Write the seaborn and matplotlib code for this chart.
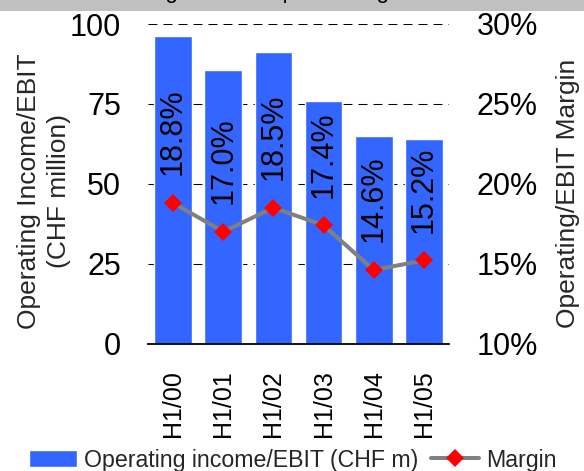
import matplotlib
matplotlib.use("Agg")
import matplotlib.pyplot as plt
import seaborn as sns
import numpy as np
import pandas as pd
from matplotlib.patches import Rectangle
from matplotlib.ticker import FuncFormatter

# data
periods = ["H1/00", "H1/01", "H1/02", "H1/03", "H1/04", "H1/05"]
income = [96.2, 85.7, 91.1, 76.0, 65.0, 64.1]      # CHF m
margin = [18.8, 17.0, 18.5, 17.4, 14.6, 15.2]      # %

sns.set_theme(style="white")
plt.rcParams["font.family"] = ["Liberation Sans", "DejaVu Sans"]

W, H = 584, 471
fig = plt.figure(figsize=(W / 100, H / 100), dpi=100)
ax = fig.add_axes([148 / W, 1 - 343.5 / H, 301 / W, 319.5 / H])

df = pd.DataFrame({"period": periods, "income": income, "margin": margin})

sns.barplot(data=df, x="period", y="income", color="#3366FF", saturation=1,
            width=0.75, ax=ax, label="Operating income/EBIT (CHF m)", zorder=2)
ax.set_xlim(-0.5, len(periods) - 0.5)
ax.set_ylim(0, 100)
ax.set_yticks([0, 25, 50, 75, 100])
ax.set_axisbelow(True)
ax.yaxis.grid(True, color="black", linewidth=0.75, linestyle=(0, (8.6, 5.8)))
ax.xaxis.grid(False)
for s in ["top", "left", "right"]:
    ax.spines[s].set_visible(False)
ax.spines["bottom"].set_color("black")
ax.spines["bottom"].set_linewidth(1.3)
ax.spines["bottom"].set_zorder(3)
ax.tick_params(axis="y", length=0, pad=19.5, labelsize=22, colors="black")
ax.tick_params(axis="x", length=0, pad=19, labelsize=18, colors="black",
               labelrotation=90)
ax.set_xlabel("")
ax.set_ylabel("")

ax2 = ax.twinx()
pos = np.arange(len(periods))
sns.lineplot(x=pos, y=margin, ax=ax2, color="#808080", linewidth=2.9,
             marker="D", markersize=9, markerfacecolor="#FF0000",
             markeredgecolor="#FF0000", markeredgewidth=0, label="Margin")
ax2.set_ylim(10, 30)
ax2.set_yticks([10, 15, 20, 25, 30])
ax2.yaxis.set_major_formatter(FuncFormatter(lambda v, p: f"{v:.0f}%"))
ax2.tick_params(axis="y", length=0, pad=20, labelsize=22, colors="black")
ax2.grid(False)
for s in ax2.spines.values():
    s.set_visible(False)
ax2.set_xlabel("")
ax2.set_ylabel("")

for x, m in zip(pos, margin):
    ax2.annotate(f"{m:.1f}%", (x, m), xytext=(0, 20), textcoords="offset points",
                 rotation=90, ha="center", va="bottom", fontsize=22, color="black")

# axis titles
fig.text(44 / W, 1 - 191.5 / H, "Operating Income/EBIT\n(CHF million)",
         rotation=90, ha="center", va="center", fontsize=19, linespacing=1.3,
         multialignment="center")
fig.text(568 / W, 1 - 193.5 / H, "Operating/EBIT Margin", rotation=90,
         ha="center", va="center", fontsize=19)

# grey title band, text mostly cut off at top
fig.add_artist(Rectangle((0, 1 - 11 / H), 1, 11 / H, transform=fig.transFigure,
                         facecolor="#C0C0C0", edgecolor="none", zorder=0))
fig.text(86 / W, 1 + 1.5 / H, "Declining EBIT and profit margin", fontsize=16,
         ha="left", va="baseline", color="black")

# legend
h1, l1 = ax.get_legend_handles_labels()
h2, l2 = ax2.get_legend_handles_labels()
for a in (ax, ax2):
    if a.get_legend() is not None:
        a.get_legend().remove()
fig.legend(h1 + h2, l1 + l2, loc="center", bbox_to_anchor=(293 / W, 1 - 460 / H),
           ncol=2, frameon=False, fontsize=16.7, handlelength=2.07,
           handletextpad=0.3, columnspacing=0.55, borderpad=0)

fig.savefig("out.png", dpi=100)
